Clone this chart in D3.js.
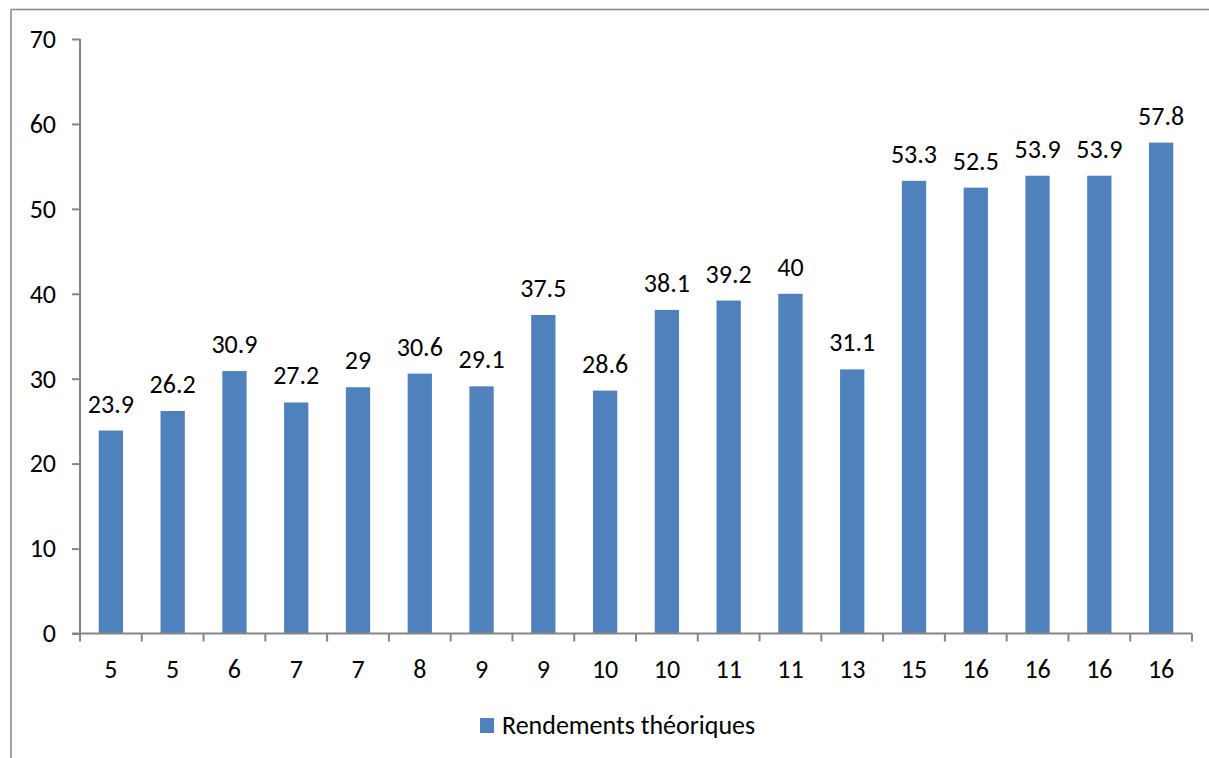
<!DOCTYPE html>
<html><head><meta charset="utf-8">
<script src="https://cdn.jsdelivr.net/npm/d3@7"></script>
<style>
html,body{margin:0;padding:0;background:#fff;}
svg{display:block;}
text{font-family:Carlito,Calibri,Lato,sans-serif;fill:#000;}
</style></head>
<body>
<svg id="chart" width="1209" height="758"></svg>
<script>
const categories = ["5","5","6","7","7","8","9","9","10","10","11","11","13","15","16","16","16","16"];
const values = [23.9,26.2,30.9,27.2,29,30.6,29.1,37.5,28.6,38.1,39.2,40,31.1,53.3,52.5,53.9,53.9,57.8];
const yTicks = [0,10,20,30,40,50,60,70];
const seriesName = "Rendements théoriques";

(function(){
const svg = d3.select("#chart");
const W = 1209, H = 758;
const pL = 80, pR = 1192, pT = 39, pB = 633.5;
const fs = 26;
const ff = "Carlito,Calibri,Lato,sans-serif";

// outer frame
svg.append("line").attr("x1",11).attr("x2",11).attr("y1",9.5).attr("y2",H)
  .attr("stroke","#868686").attr("stroke-width",1.5);
svg.append("line").attr("x1",11).attr("x2",W).attr("y1",9.5).attr("y2",9.5)
  .attr("stroke","#868686").attr("stroke-width",1.5);

const idx = categories.map((d,i)=>i);
const x = d3.scaleBand().domain(idx).range([pL,pR]).paddingInner(0.607).paddingOuter(0.3035);
const y = d3.scaleLinear().domain([0,70]).range([pB,pT]);

// bars
svg.append("g").selectAll("rect").data(values).join("rect")
  .attr("x",(d,i)=>x(i)).attr("width",x.bandwidth())
  .attr("y",d=>y(d)).attr("height",d=>y(0)-y(d))
  .attr("fill","#4F81BD");

// data labels
svg.append("g").selectAll("text").data(values).join("text")
  .attr("x",(d,i)=>x(i)+x.bandwidth()/2).attr("y",d=>y(d)-18)
  .attr("text-anchor","middle").attr("font-size",fs).text(d=>String(d));

// y axis
const yAxis = d3.axisLeft(y).tickValues(yTicks).tickSize(8).tickPadding(16).tickFormat(d3.format("d"));
const gy = svg.append("g").attr("transform",`translate(${pL},0)`).call(yAxis);
gy.select(".domain").attr("stroke","#868686").attr("stroke-width",2).attr("d",`M0,${pT}V${pB}`);
gy.selectAll(".tick line").attr("stroke","#868686").attr("stroke-width",2);
gy.selectAll(".tick text").attr("font-size",fs).attr("font-family",ff).attr("fill","#000");

// x axis with ticks at band boundaries
const gx = svg.append("g").attr("transform",`translate(0,${pB})`);
gx.append("line").attr("x1",pL-8).attr("x2",pR).attr("y1",0).attr("y2",0)
  .attr("stroke","#868686").attr("stroke-width",2);
const step = x.step();
const bounds = d3.range(categories.length+1).map(i=> i===0 ? pL : x(i-1)+x.bandwidth()/2+step/2);
gx.selectAll("line.tk").data(bounds).join("line").attr("class","tk")
  .attr("x1",d=>d).attr("x2",d=>d).attr("y1",0).attr("y2",8)
  .attr("stroke","#868686").attr("stroke-width",2);
gx.selectAll("text").data(categories).join("text")
  .attr("x",(d,i)=>x(i)+x.bandwidth()/2).attr("y",44)
  .attr("text-anchor","middle").attr("font-size",fs).text(d=>d);

// legend
const lg = svg.append("g");
lg.append("rect").attr("x",480).attr("y",718).attr("width",14).attr("height",15).attr("fill","#4F81BD");
lg.append("text").attr("x",502).attr("y",734).attr("font-size",fs).text(seriesName);
})();
</script>
</body></html>
